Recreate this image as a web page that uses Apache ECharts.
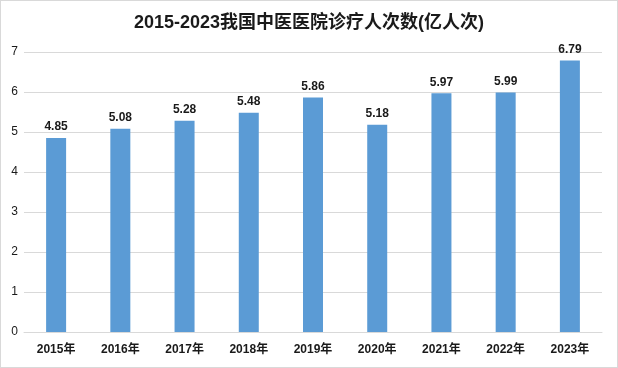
<!DOCTYPE html>
<html><head><meta charset="utf-8">
<script src="https://cdn.jsdelivr.net/npm/echarts@6/dist/echarts.min.js"></script>
<style>html,body{margin:0;padding:0;background:#fff}#c{width:618px;height:368px;box-sizing:border-box;border:1px solid #d9d9d9}</style>
</head><body><div id="c"></div>
<script>
const titleText = '2015-2023我国中医医院诊疗人次数(亿人次)';
const categories = ['2015年','2016年','2017年','2018年','2019年','2020年','2021年','2022年','2023年'];
const values = [4.85,5.08,5.28,5.48,5.86,5.18,5.97,5.99,6.79];
const yTicks = [0,1,2,3,4,5,6,7];
const font = '"Liberation Sans","Noto Sans CJK SC",sans-serif';
const chart = echarts.init(document.getElementById('c'), null, {renderer:'canvas'});
chart.setOption({
  animation:false,
  title:{text:titleText,left:'center',top:8,textStyle:{fontFamily:font,fontSize:18,fontWeight:'bold',color:'#1a1a1a'}},
  grid:{left:23,right:15,top:51,bottom:35},
  xAxis:{type:'category',data:categories,axisLine:{lineStyle:{color:'#d9d9d9'}},axisTick:{show:false},
    axisLabel:{fontFamily:font,fontSize:12,fontWeight:'bold',color:'#1a1a1a',margin:12}},
  yAxis:{type:'value',min:yTicks[0],max:yTicks[yTicks.length-1],interval:1,
    axisLine:{show:false},axisTick:{show:false},
    splitLine:{lineStyle:{color:'#d9d9d9'}},
    axisLabel:{fontFamily:font,fontSize:12,color:'#1a1a1a',margin:6}},
  series:[{type:'bar',data:values,barWidth:20,itemStyle:{color:'#5b9bd5'},
    label:{show:true,position:'top',distance:5,formatter:p=>p.value.toFixed(2),fontFamily:font,fontSize:12,fontWeight:'bold',color:'#1a1a1a'}}]
});
</script></body></html>
